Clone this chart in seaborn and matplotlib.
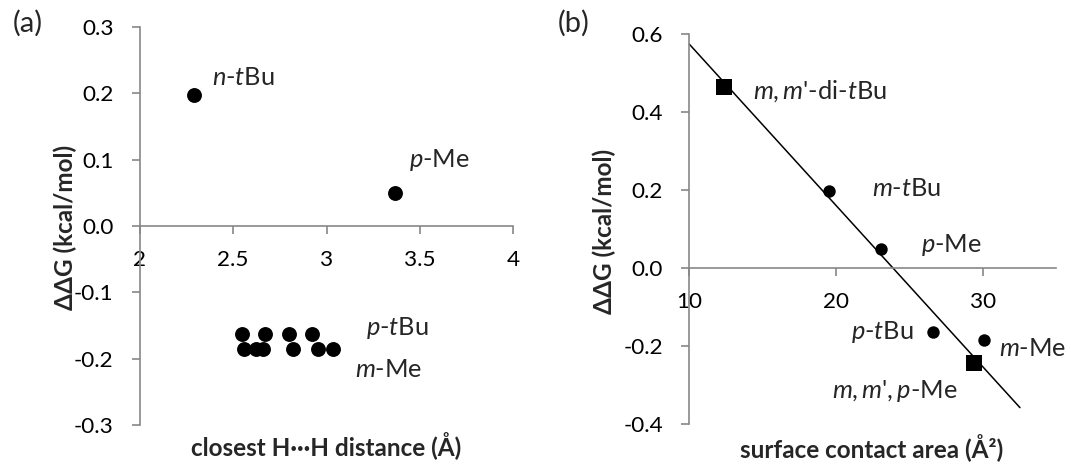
import matplotlib
matplotlib.use("Agg")
import matplotlib.pyplot as plt
import numpy as np
import pandas as pd
import seaborn as sns

# ---- data -------------------------------------------------------------
# (a) closest H···H distance vs ΔΔG
hh_distance = [2.292, 3.368, 2.545, 2.671, 2.800, 2.924,
               2.560, 2.623, 2.660, 2.823, 2.954, 3.037]
hh_ddg = [0.197, 0.049, -0.163, -0.163, -0.163, -0.163,
          -0.185, -0.185, -0.185, -0.185, -0.185, -0.185]

# (b) surface contact area vs ΔΔG
area_circle = [19.5, 23.04, 26.65, 30.07]
ddg_circle = [0.197, 0.049, -0.163, -0.185]
area_square = [12.36, 29.41]
ddg_square = [0.464, -0.242]

# linear trend through panel (b)
trend_slope = -0.0413
trend_intercept = 0.987
trend_range = [10.0, 32.55]

a_xticks = [2, 2.5, 3, 3.5, 4]
a_xticklabels = ["2", "2.5", "3", "3.5", "4"]
a_yticks = [-0.3, -0.2, -0.1, 0.0, 0.1, 0.2, 0.3]
a_yticklabels = ["-0.3", "-0.2", "-0.1", "0.0", "0.1", "0.2", "0.3"]
b_xticks = [10, 20, 30]
b_xticklabels = ["10", "20", "30"]
b_yticks = [-0.4, -0.2, 0.0, 0.2, 0.4, 0.6]
b_yticklabels = ["-0.4", "-0.2", "0.0", "0.2", "0.4", "0.6"]

# (text, x, baseline y, horizontal alignment)
a_labels = [
    (r"$\mathit{n}$-$\mathit{t}$Bu", 2.388, 0.2126, "left"),
    (r"$\mathit{p}$-Me", 3.442, 0.0894, "left"),
    (r"$\mathit{p}$-$\mathit{t}$Bu", 3.211, -0.1643, "left"),
    (r"$\mathit{m}$-Me", 3.155, -0.228, "left"),
]
b_labels = [
    (r"$\mathit{m,m}$'-di-$\mathit{t}$Bu", 14.32, 0.434, "left"),
    (r"$\mathit{m}$-$\mathit{t}$Bu", 22.45, 0.186, "left"),
    (r"$\mathit{p}$-Me", 25.80, 0.041, "left"),
    (r"$\mathit{p}$-$\mathit{t}$Bu", 25.33, -0.181, "right"),
    (r"$\mathit{m}$-Me", 31.13, -0.224, "left"),
    (r"$\mathit{m,m}$'$\mathit{,p}$-Me", 19.74, -0.332, "left"),
]

# ---- style ------------------------------------------------------------
sns.set_style("white")
plt.rcParams["font.family"] = ["Lato", "DejaVu Sans"]
plt.rcParams["mathtext.fontset"] = "custom"
plt.rcParams["mathtext.rm"] = "Lato"
plt.rcParams["mathtext.it"] = "Lato:italic"
plt.rcParams["mathtext.bf"] = "Lato:bold"

AXIS_GREY = "#878787"
TICK_FS = 16.2
ANN_FS = 18.3
LABEL_FS = 17.5
TAG_FS = 21

W, H = 1071, 468
fig = plt.figure(figsize=(W / 100, H / 100), dpi=100)


def px_axes(left, top, right, bottom):
    return [left / W, (H - bottom) / H, (right - left) / W, (bottom - top) / H]


ax_a = fig.add_axes(px_axes(140.0, 27.0, 513.0, 425.0))
ax_b = fig.add_axes(px_axes(689.3, 34.0, 1055.9, 424.3))


def excel_axes(ax, xlim, ylim, xt, xtl, yt, ytl):
    ax.set_xlim(*xlim)
    ax.set_ylim(*ylim)
    for s in ("top", "right"):
        ax.spines[s].set_visible(False)
    ax.spines["bottom"].set_position(("data", 0))
    for s in ("left", "bottom"):
        ax.spines[s].set_color(AXIS_GREY)
        ax.spines[s].set_linewidth(1.2)
    ax.set_xticks(xt)
    ax.set_xticklabels(xtl)
    ax.set_yticks(yt)
    ax.set_yticklabels(ytl)
    ax.tick_params(axis="both", which="both", direction="out", length=6,
                   width=1.2, color=AXIS_GREY, labelsize=TICK_FS,
                   labelcolor="black")
    ax.tick_params(axis="x", pad=11, bottom=True)
    ax.tick_params(axis="y", pad=13, left=True)
    ax.set_facecolor("none")


# ---- panel (a) --------------------------------------------------------
df_a = pd.DataFrame({"d": hh_distance, "g": hh_ddg})
sns.scatterplot(data=df_a, x="d", y="g", ax=ax_a, color="black", s=115,
                linewidth=0, marker="o", clip_on=False, zorder=3)
excel_axes(ax_a, (2, 4), (-0.3, 0.3), a_xticks, a_xticklabels,
           a_yticks, a_yticklabels)
for txt, x, y, ha in a_labels:
    ax_a.text(x, y, txt, fontsize=ANN_FS, va="baseline", ha=ha)
ax_a.set_xlabel("")
ax_a.set_ylabel("")

# ---- panel (b) --------------------------------------------------------
tx = np.array(trend_range)
df_t = pd.DataFrame({"a": tx, "g": trend_intercept + trend_slope * tx})
sns.lineplot(data=df_t, x="a", y="g", ax=ax_b, color="black", linewidth=1.1,
             clip_on=False, zorder=2)
df_c = pd.DataFrame({"a": area_circle, "g": ddg_circle})
sns.scatterplot(data=df_c, x="a", y="g", ax=ax_b, color="black", s=80,
                linewidth=0, marker="o", clip_on=False, zorder=3)
df_s = pd.DataFrame({"a": area_square, "g": ddg_square})
sns.scatterplot(data=df_s, x="a", y="g", ax=ax_b, color="black", s=132,
                linewidth=0, marker="s", clip_on=False, zorder=3)
excel_axes(ax_b, (10, 35), (-0.4, 0.6), b_xticks, b_xticklabels,
           b_yticks, b_yticklabels)
for txt, x, y, ha in b_labels:
    ax_b.text(x, y, txt, fontsize=ANN_FS, va="baseline", ha=ha)
ax_b.set_xlabel("")
ax_b.set_ylabel("")


# ---- axis titles and panel tags ----------------------------------------
def ftext(x, y, s, **kw):
    fig.text(x / W, 1 - y / H, s, **kw)


ftext(65.5, 227, "ΔΔG (kcal/mol)", rotation=90, fontsize=LABEL_FS,
      fontweight="bold", ha="center", va="center")
ftext(604, 231, "ΔΔG (kcal/mol)", rotation=90, fontsize=LABEL_FS,
      fontweight="bold", ha="center", va="center")
ftext(326, 446, "closest H\u00b7\u00b7\u00b7H distance (Å)", fontsize=LABEL_FS,
      fontweight="bold", ha="center", va="center")
ftext(872, 448, "surface contact area (Å²)", fontsize=LABEL_FS,
      fontweight="bold", ha="center", va="center")
ftext(27.5, 23, "(a)", fontsize=TAG_FS, ha="center", va="center")
ftext(574, 23.5, "(b)", fontsize=TAG_FS, ha="center", va="center")

fig.savefig("out.png", dpi=100, facecolor="white")
